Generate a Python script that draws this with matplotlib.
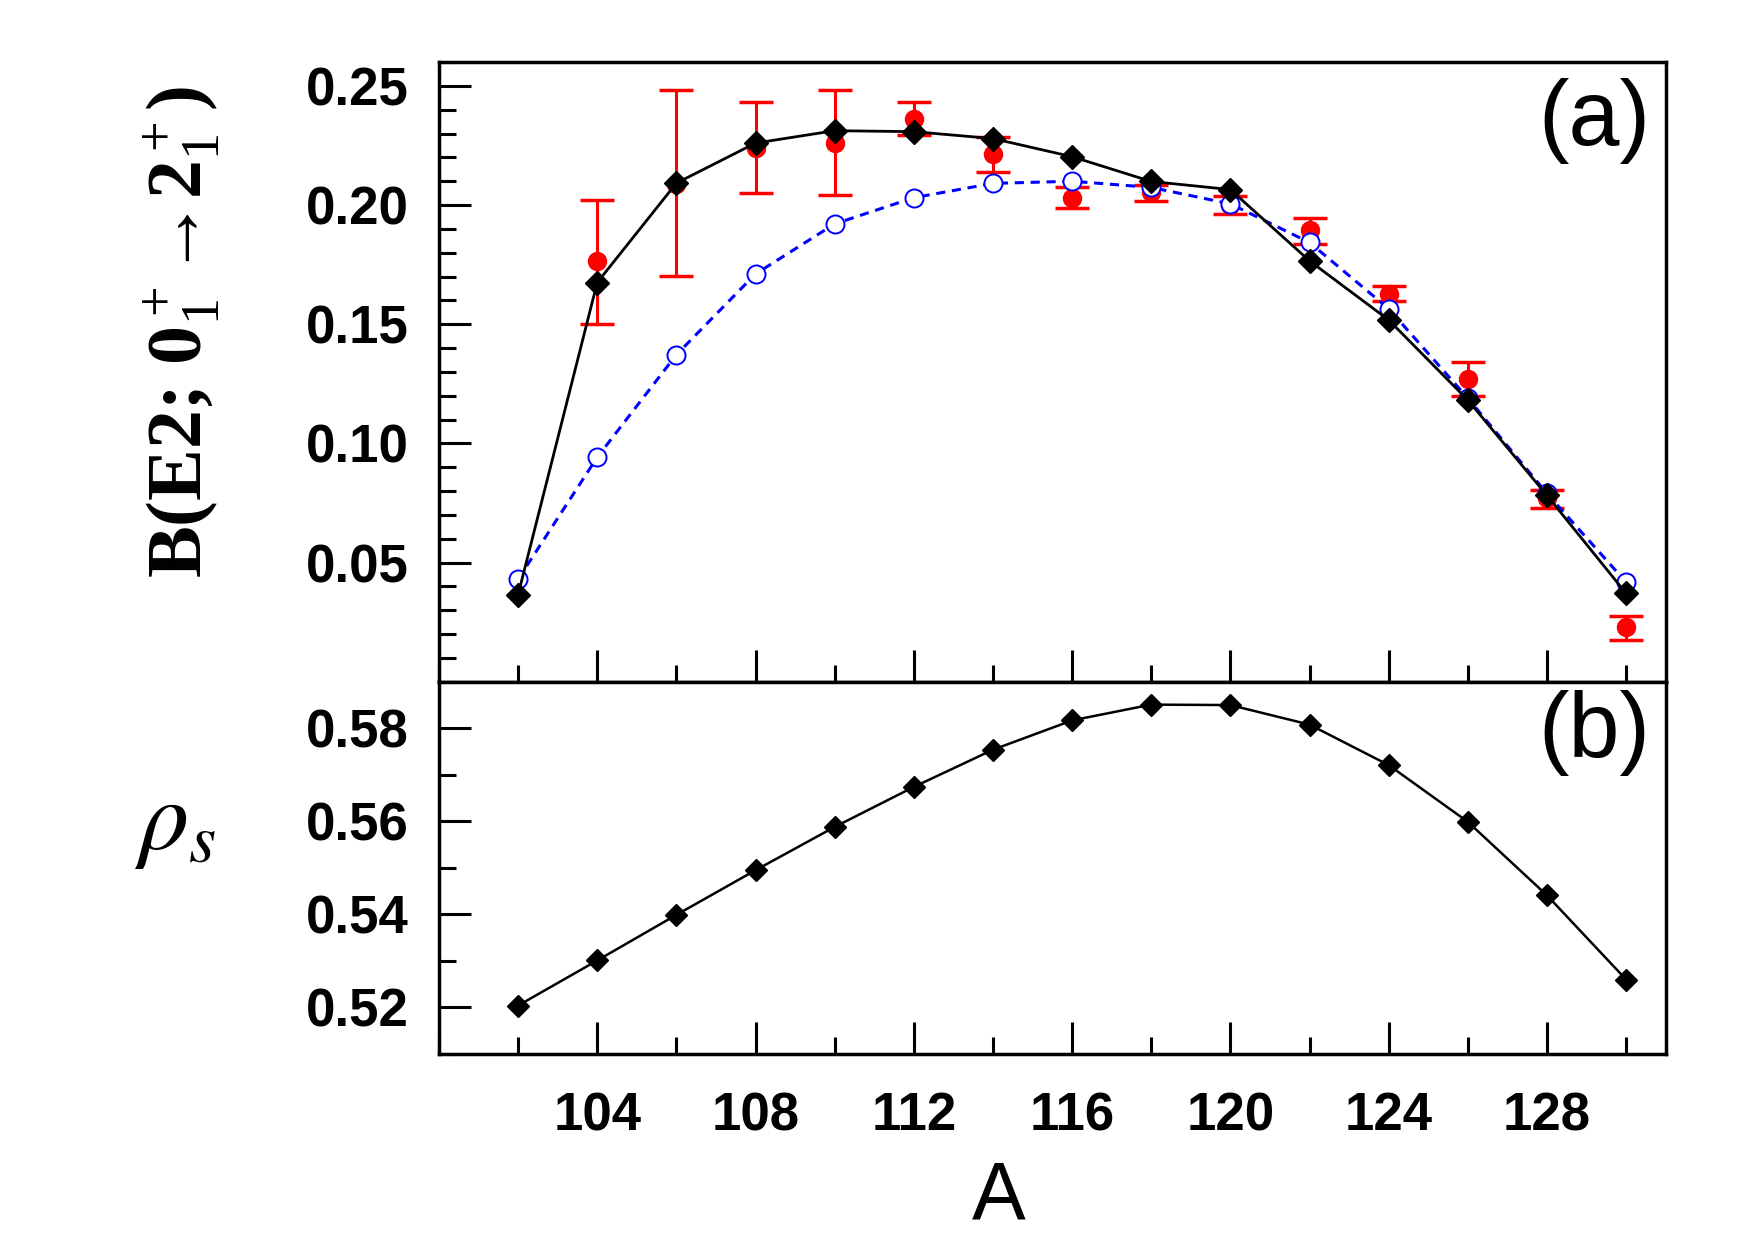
import numpy as np
import matplotlib
matplotlib.use("Agg")
import matplotlib.pyplot as plt
from matplotlib.ticker import MultipleLocator

# mass number A
A = [102, 104, 106, 108, 110, 112, 114, 116, 118, 120, 122, 124, 126, 128, 130]

# (a) B(E2) - calculated (black diamonds)
be2_calc = [0.0365, 0.1675, 0.2092, 0.226, 0.2312, 0.2308, 0.2279, 0.2203,
            0.2099, 0.2065, 0.1766, 0.1518, 0.1182, 0.0782, 0.0371]
# (a) B(E2) - second calculation (blue open circles)
be2_calc2 = [0.043, 0.0942, 0.1372, 0.1711, 0.1921, 0.2031, 0.2091, 0.2100,
             0.2074, 0.2005, 0.1843, 0.1565, 0.119, 0.0790, 0.0418]
# (a) experiment (red) with lower / upper bounds of the error bars
A_exp = [104, 106, 108, 110, 112, 114, 116, 118, 120, 122, 124, 126, 128, 130]
be2_exp = [0.1764, 0.209, 0.224, 0.226, 0.2363, 0.2214, 0.2031, 0.2056,
           0.200, 0.1894, 0.1625, 0.1272, 0.0772, 0.0228]
be2_lo = [0.1502, 0.1702, 0.2051, 0.2041, 0.2293, 0.2140, 0.1988, 0.2019,
          0.1964, 0.1837, 0.1596, 0.1199, 0.0730, 0.0176]
be2_hi = [0.2021, 0.2481, 0.2432, 0.2481, 0.2433, 0.2286, 0.2074, 0.2085,
          0.2038, 0.1947, 0.1661, 0.1340, 0.0805, 0.0276]

# (b) rho_s
rho_s = [0.5204, 0.5301, 0.5399, 0.5495, 0.5588, 0.5674, 0.5754, 0.5817,
         0.5851, 0.5850, 0.5808, 0.5721, 0.5599, 0.5441, 0.5260]

plt.rcParams['font.family'] = ['Liberation Sans', 'DejaVu Sans']
plt.rcParams['mathtext.fontset'] = 'custom'
plt.rcParams['mathtext.rm'] = 'Liberation Serif'
plt.rcParams['mathtext.it'] = 'Liberation Serif:italic'
plt.rcParams['mathtext.bf'] = 'Liberation Serif:bold'

fig = plt.figure(figsize=(17.55, 12.41), dpi=100)
ax1 = fig.add_axes([0.2501, 0.4506, 0.699, 0.4994])
ax2 = fig.add_axes([0.2501, 0.1507, 0.699, 0.2999], sharex=ax1)

# --- panel (a) ---
yerr = [np.array(be2_exp) - np.array(be2_lo), np.array(be2_hi) - np.array(be2_exp)]
ax1.errorbar(A_exp, be2_exp, yerr=yerr, fmt='o', color='red', ms=13,
             elinewidth=2.2, capsize=12, capthick=2.5, zorder=2)
ax1.plot(A, be2_calc2, '--', color='blue', lw=2.2, dashes=(3, 2.2),
         marker='o', ms=13, mfc='white', mec='blue', mew=1.4, zorder=3)
ax1.plot(A, be2_calc, '-', color='black', lw=2.0, marker='D', ms=12,
         mfc='black', mec='black', zorder=4)

ax1.set_xlim(100, 131)
ax1.set_ylim(0, 0.26)
ax1.set_yticks([0.05, 0.10, 0.15, 0.20, 0.25])
ax1.set_yticklabels(['0.05', '0.10', '0.15', '0.20', '0.25'])
ax1.yaxis.set_minor_locator(MultipleLocator(0.01))
ax1.text(0.942, 0.905, '(a)', transform=ax1.transAxes, ha='center', va='center',
         fontsize=66)

# --- panel (b) ---
ax2.plot(A, rho_s, '-', color='black', lw=1.8, marker='D', ms=11,
         mfc='black', mec='black')
ax2.set_ylim(0.51, 0.59)
ax2.set_yticks([0.52, 0.54, 0.56, 0.58])
ax2.yaxis.set_minor_locator(MultipleLocator(0.01))
ax2.set_xticks([104, 108, 112, 116, 120, 124, 128])
ax2.xaxis.set_minor_locator(MultipleLocator(2))
ax2.text(0.942, 0.862, '(b)', transform=ax2.transAxes, ha='center', va='center',
         fontsize=66)

for ax in (ax1, ax2):
    for s in ax.spines.values():
        s.set_linewidth(2.5)
    ax.tick_params(which='major', direction='in', length=23, width=2.2,
                   labelsize=38, pad=22, top=False, right=False)
    ax.tick_params(which='minor', direction='in', length=12, width=2.2,
                   top=False, right=False)
    for lab in ax.get_xticklabels() + ax.get_yticklabels():
        lab.set_fontweight('bold')

ax1.tick_params(axis='x', which='both', labelbottom=False)
ax2.tick_params(axis='x', which='major', pad=27)

fig.text(0.103, 0.732, 'B(E2; 0$_1^+$\u21922$_1^+$)', rotation=90,
         ha='center', va='center', fontsize=56, fontfamily='Liberation Serif',
         fontweight='bold')
fig.text(0.100, 0.336, r'$\rho_s$', ha='center', va='center', fontsize=72,
         math_fontfamily='stix')
fig.text(0.569, 0.035, 'A', ha='center', va='center', fontsize=58)

fig.savefig('out.png', dpi=100)
